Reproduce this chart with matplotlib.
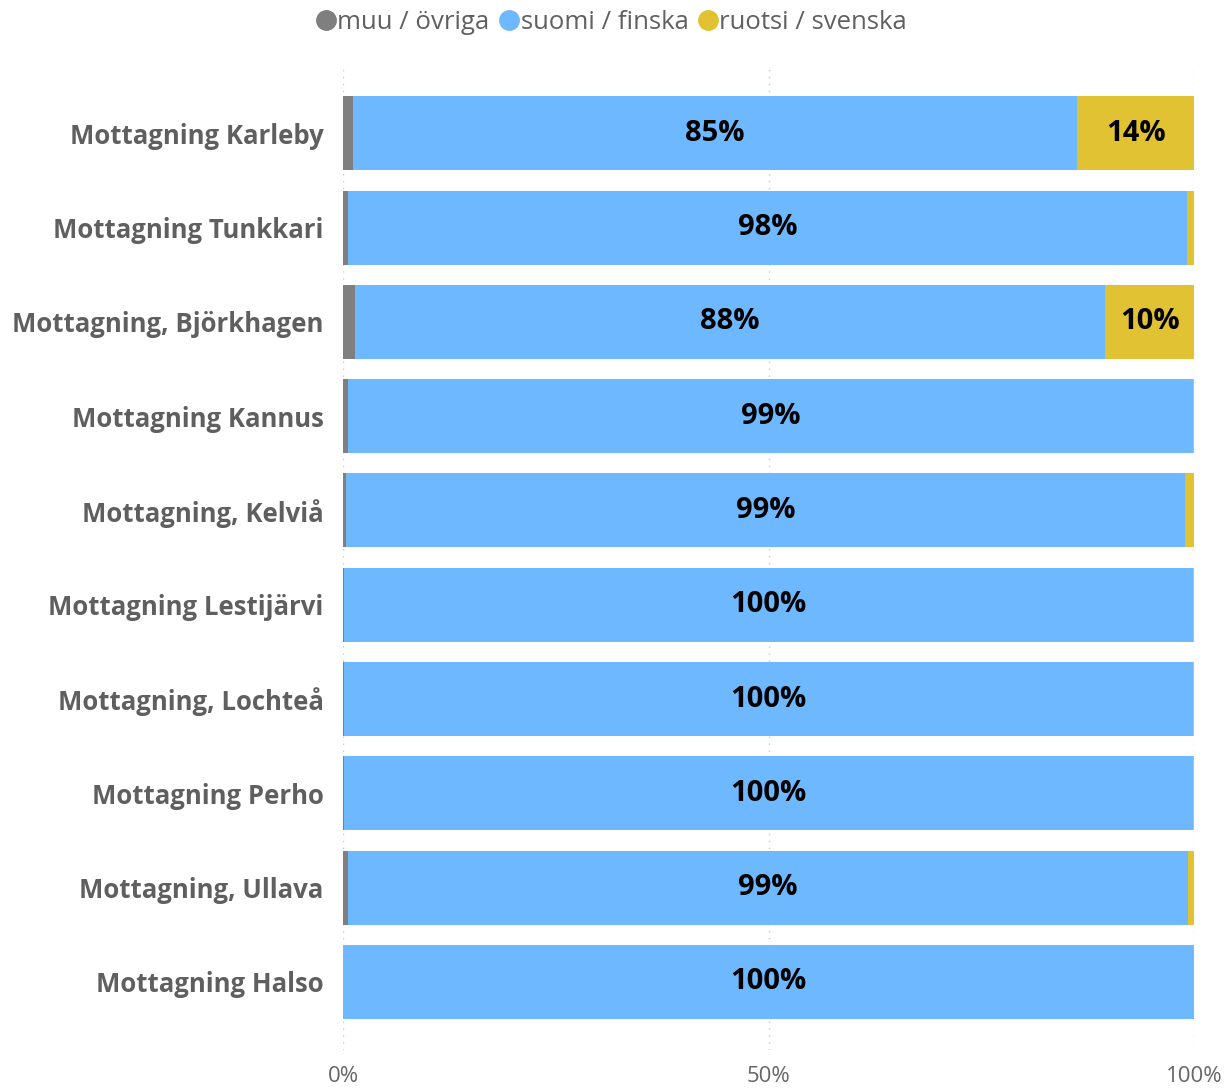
import numpy as np
import matplotlib.pyplot as plt
from matplotlib.lines import Line2D

clinics = [
    "Mottagning Karleby", "Mottagning Tunkkari", "Mottagning, Björkhagen",
    "Mottagning Kannus", "Mottagning, Kelviå", "Mottagning Lestijärvi",
    "Mottagning, Lochteå", "Mottagning Perho", "Mottagning, Ullava",
    "Mottagning Halso",
]
# shares in percent
muu = [1.1, 0.6, 1.4, 0.6, 0.3, 0.1, 0.1, 0.1, 0.6, 0.0]
suomi = [85.1, 98.5, 88.1, 99.2, 98.6, 99.7, 99.7, 99.7, 98.6, 100.0]
ruotsi = [13.8, 0.9, 10.5, 0.2, 1.1, 0.2, 0.2, 0.2, 0.8, 0.0]

series = ["muu / övriga", "suomi / finska", "ruotsi / svenska"]
colors = ["#7f7f7f", "#6db8ff", "#e0c232"]

plt.rcParams["font.family"] = ["Open Sans", "DejaVu Sans"]

fig = plt.figure(figsize=(12.3, 10.89), dpi=100)
ax = fig.add_axes([0.279, 0.036, 0.692, 0.904])

y = np.arange(len(clinics))
left = np.zeros(len(clinics))
for vals, col in zip([muu, suomi, ruotsi], colors):
    vals = np.array(vals)
    ax.barh(y, vals, left=left, height=0.785, color=col, linewidth=0, zorder=2)
    for yi, (l, v) in enumerate(zip(left, vals)):
        if v >= 5:
            ax.text(l + v / 2, yi, f"{v:.0f}%", ha="center", va="center",
                    fontsize=21, fontweight="bold", color="black", zorder=3)
    left += vals

ax.set_xlim(0, 100)
ax.set_ylim(len(clinics) - 1 + 0.72, -0.72)
ax.set_yticks(y)
ax.set_yticklabels(clinics, fontsize=18.5, fontweight="bold", color="#5f5f5f")
ax.set_xticks([0, 50, 100])
ax.set_xticklabels(["0%", "50%", "100%"], fontsize=16, color="#666666")
ax.tick_params(axis="both", length=0)
ax.tick_params(axis="y", pad=14)
ax.tick_params(axis="x", pad=12)
for s in ax.spines.values():
    s.set_visible(False)
ax.grid(axis="x", color="#c8c8c8", linestyle=(0, (1, 4)), linewidth=1, zorder=0)

handles = [Line2D([], [], marker="o", linestyle="", markersize=14,
                  markerfacecolor=c, markeredgecolor=c) for c in colors]
fig.legend(handles, series, loc="upper center", bbox_to_anchor=(0.497, 1.012),
           ncol=3, frameon=False, fontsize=18.5, labelcolor="#606060",
           handletextpad=0.05, columnspacing=0.35, handlelength=0.8)

fig.savefig("out.png", dpi=100)
